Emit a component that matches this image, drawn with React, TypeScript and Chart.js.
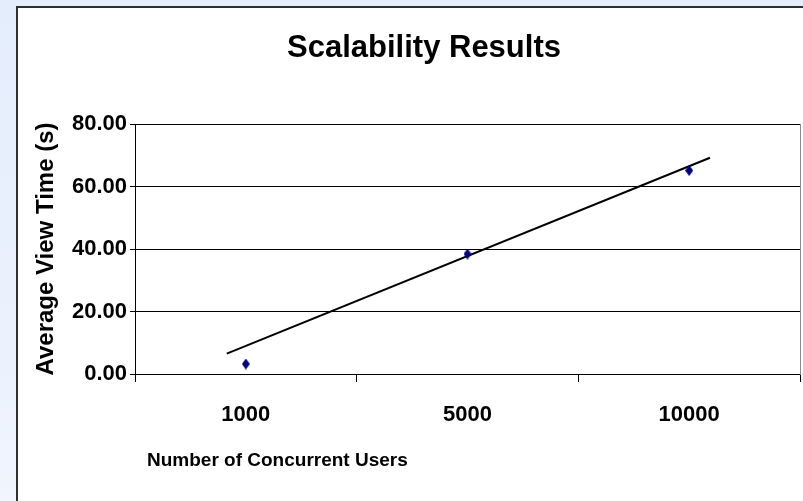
import React, { useEffect, useRef } from 'react';
import { Chart, registerables } from 'chart.js';

Chart.register(...registerables);

// ---- data ----
const categories = ['1000', '5000', '10000'];
const categoryPositions = [1, 2, 3];
const viewTimes = [3.2, 38.4, 65.1];
const trendX = [0.914, 3.094];
const trendY = [6.5, 69.2];
const yMin = 0;
const yMax = 80;
const yStep = 20;

const titleText = 'Scalability Results';
const xTitleText = 'Number of Concurrent Users';
const yTitleText = 'Average View Time (s)';

const FONT = '"Liberation Sans", Arial, Helvetica, sans-serif';

const xTitlePlugin = {
  id: 'xTitleText',
  afterDraw(chart: any) {
    const { ctx, chartArea } = chart;
    ctx.save();
    ctx.font = `bold 19px ${FONT}`;
    ctx.fillStyle = '#000';
    ctx.textBaseline = 'middle';
    ctx.textAlign = 'left';
    ctx.fillText(xTitleText, chartArea.left + 12, chart.height - 40);
    ctx.restore();
  },
};

export default function App() {
  const ref = useRef<HTMLCanvasElement>(null);

  useEffect(() => {
    const pt = document.createElement('canvas');
    pt.width = 8;
    pt.height = 11;
    const pc = pt.getContext('2d')!;
    pc.fillStyle = '#000080';
    pc.beginPath();
    pc.moveTo(4, 0);
    pc.lineTo(8, 5.5);
    pc.lineTo(4, 11);
    pc.lineTo(0, 5.5);
    pc.closePath();
    pc.fill();

    const n = categories.length;
    const tickVals: number[] = [];
    for (let v = 0.5; v <= n + 0.5; v += 0.5) tickVals.push(v);

    const chart = new Chart(ref.current!, {
      type: 'scatter',
      data: {
        datasets: [
          {
            label: 'Average View Time',
            data: categoryPositions.map((x, i) => ({ x, y: viewTimes[i] })),
            pointStyle: pt as any,
            pointRadius: 5,
            backgroundColor: '#000080',
            borderColor: '#000080',
          },
          {
            label: 'Linear trend',
            type: 'line',
            data: trendX.map((x, i) => ({ x, y: trendY[i] })),
            showLine: true,
            pointRadius: 0,
            borderColor: '#000',
            borderWidth: 2,
            fill: false,
          } as any,
        ],
      },
      options: {
        responsive: false,
        animation: false,
        devicePixelRatio: 1,
        layout: { padding: 0 },
        plugins: {
          legend: { display: false },
          tooltip: { enabled: false },
          title: {
            display: true,
            text: titleText,
            color: '#000',
            font: { family: FONT, size: 31, weight: 'bold' },
            padding: { top: 21.4, bottom: 57.4 },
          },
        },
        scales: {
          x: {
            type: 'linear',
            position: 'bottom',
            min: 0.5,
            max: n + 0.5,
            afterBuildTicks: (s: any) => {
              s.ticks = tickVals.map((v) => ({ value: v }));
            },
            afterFit: (s: any) => {
              s.height = 127;
            },
            ticks: {
              autoSkip: false,
              maxRotation: 0,
              padding: 19.8,
              color: '#000',
              font: { family: FONT, size: 22, weight: 'bold' },
              callback: (v: any) =>
                Number.isInteger(v) ? categories[v - 1] : '',
            },
            grid: {
              drawOnChartArea: false,
              drawTicks: true,
              tickLength: 8,
              tickColor: (ctx: any) =>
                ctx.tick && Number.isInteger(ctx.tick.value) ? 'rgba(0,0,0,0)' : '#000',
            },
            border: { color: '#000', width: 1 },
          },
          y: {
            type: 'linear',
            position: 'left',
            min: yMin,
            max: yMax,
            afterFit: (s: any) => {
              s.width = 117;
            },
            ticks: {
              stepSize: yStep,
              padding: 3,
              color: '#000',
              font: { family: FONT, size: 22, weight: 'bold' },
              callback: (v: any) => Number(v).toFixed(2),
            },
            grid: { color: '#000', lineWidth: 1, tickLength: 5, tickColor: '#000' },
            border: { color: '#000', width: 1 },
            title: {
              display: true,
              text: yTitleText,
              color: '#000',
              font: { family: FONT, size: 24, weight: 'bold' },
              padding: { top: 13.6, bottom: 0 },
            },
          },
          y2: {
            type: 'linear',
            position: 'right',
            display: true,
            min: yMin,
            max: yMax,
            afterFit: (s: any) => {
              s.width = 30;
            },
            ticks: { display: false },
            grid: { drawOnChartArea: false, drawTicks: false },
            border: { color: '#8a8a8a', width: 1 },
          },
        },
      } as any,
      plugins: [xTitlePlugin],
    });
    return () => chart.destroy();
  }, []);

  return (
    <div
      style={{
        position: 'fixed',
        left: 0,
        top: 0,
        width: 803,
        height: 501,
        overflow: 'hidden',
        background: 'linear-gradient(180deg, #e4edfc 0%, #eaf1fd 60%, #f0f5fe 100%)',
      }}
    >
      <div
        style={{
          position: 'absolute',
          left: 16,
          top: 6,
          width: 812,
          height: 493,
          borderLeft: '2px solid #2e2e33',
          borderTop: '2px solid #2e2e33',
          background: '#fff',
        }}
      >
        <canvas ref={ref} width={812} height={493} style={{ display: 'block' }} />
      </div>
    </div>
  );
}
